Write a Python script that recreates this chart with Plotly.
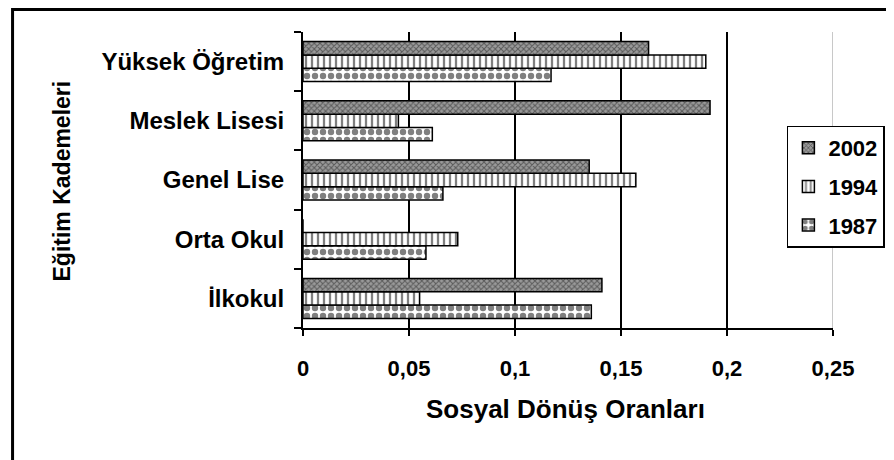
import plotly.graph_objects as go

categories = ["İlkokul", "Orta Okul", "Genel Lise", "Meslek Lisesi", "Yüksek Öğretim"]
years = ["1987", "1994", "2002"]
v1987 = [0.136, 0.058, 0.066, 0.061, 0.117]
v1994 = [0.055, 0.073, 0.157, 0.045, 0.190]
v2002 = [0.141, 0.0, 0.135, 0.192, 0.163]
x_tickvals = [0, 0.05, 0.1, 0.15, 0.2, 0.25]
x_ticktext = ["0", "0,05", "0,1", "0,15", "0,2", "0,25"]
x_title = "Sosyal Dönüş Oranları"
y_title = "Eğitim Kademeleri"

FONT = "Liberation Sans, Arial, sans-serif"

patterns = {
    "1987": dict(shape=".", size=8, solidity=0.5, fgcolor="#000000", bgcolor="#ffffff"),
    "1994": dict(shape="|", size=6, solidity=0.38, fgcolor="#000000", bgcolor="#ffffff"),
    "2002": dict(shape="x", size=4, solidity=0.45, fgcolor="#1a1a1a", bgcolor="#9a9a9a"),
}
values = {"1987": v1987, "1994": v1994, "2002": v2002}
ranks = {"2002": 1, "1994": 2, "1987": 3}

fig = go.Figure()
for yr in years:
    fig.add_trace(go.Bar(
        y=categories, x=values[yr], name=yr, orientation="h",
        legendgroup=yr, legendrank=ranks[yr],
        marker=dict(color="#ffffff", line=dict(color="#000000", width=1.5),
                    pattern=patterns[yr]),
    ))

fig.update_layout(
    width=894, height=460,
    margin=dict(l=295, r=69, t=24, b=140, autoexpand=False),
    paper_bgcolor="white", plot_bgcolor="white",
    barmode="group", bargap=0.325, bargroupgap=0,
    font=dict(family=FONT, color="black"),
    showlegend=True,
    legend=dict(x=0.913, y=0.684, xanchor="left", yanchor="top",
                traceorder="grouped", tracegroupgap=7,
                bordercolor="black", borderwidth=1.5, bgcolor="white",
                font=dict(family=FONT, size=22, weight="bold", color="black")),
    xaxis=dict(range=[0, 0.25], tickvals=x_tickvals, ticktext=x_ticktext,
               showgrid=True, gridcolor="black", gridwidth=2,
               showline=True, linecolor="black", linewidth=2,
               ticks="outside", ticklen=6, tickwidth=1.5, tickcolor="black",
               ticklabelstandoff=14, zeroline=False, automargin=False,
               tickfont=dict(family=FONT, size=22, weight="bold", color="black")),
    yaxis=dict(type="category", categoryorder="array", categoryarray=categories,
               showgrid=False, showline=True, linecolor="black", linewidth=2,
               ticks="outside", ticklen=7, tickwidth=1.5, tickcolor="black",
               tickson="boundaries", ticklabelstandoff=12, automargin=False,
               tickfont=dict(family=FONT, size=24, weight="bold", color="black")),
    shapes=[
        dict(type="line", xref="x", yref="paper", x0=0.25, x1=0.25, y0=0, y1=1,
             line=dict(color="#c8c8c8", width=2), layer="above"),
        dict(type="rect", xref="paper", yref="paper", x0=-0.548, x1=1.4, y0=-1.5, y1=1.076,
             line=dict(color="black", width=3), fillcolor="rgba(0,0,0,0)", layer="above"),
    ],
    annotations=[
        dict(text=y_title, xref="paper", yref="paper", x=-0.4547, y=0.495,
             xanchor="center", yanchor="middle", textangle=-90, showarrow=False,
             font=dict(family=FONT, size=23, weight="bold", color="black")),
        dict(text=x_title, xref="paper", yref="paper", x=0.496, y=-0.274,
             xanchor="center", yanchor="middle", showarrow=False,
             font=dict(family=FONT, size=26, weight="bold", color="black")),
    ],
)

fig.write_html("out.html")
